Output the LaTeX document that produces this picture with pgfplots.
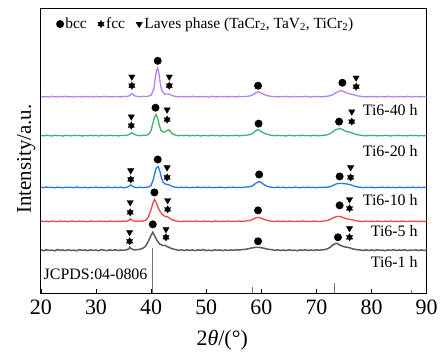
\documentclass[border=0pt]{standalone}
\usepackage{pgfplots}
\pgfplotsset{compat=1.18}
\usepackage{fontspec}
\setmainfont{Liberation Serif}
\definecolor{cpurple}{RGB}{183,132,230}
\definecolor{cgreen}{RGB}{62,178,112}
\definecolor{cblue}{RGB}{40,118,230}
\definecolor{cred}{RGB}{240,72,72}
\definecolor{cgray}{RGB}{92,92,92}
\pgfdeclareplotmark{hexstar}{%
  \pgfpathmoveto{\pgfqpointpolar{90}{\pgfplotmarksize}}%
  \pgfpathlineto{\pgfqpointpolar{210}{\pgfplotmarksize}}%
  \pgfpathlineto{\pgfqpointpolar{330}{\pgfplotmarksize}}%
  \pgfpathclose
  \pgfpathmoveto{\pgfqpointpolar{270}{\pgfplotmarksize}}%
  \pgfpathlineto{\pgfqpointpolar{30}{\pgfplotmarksize}}%
  \pgfpathlineto{\pgfqpointpolar{150}{\pgfplotmarksize}}%
  \pgfpathclose
  \pgfusepathqfillstroke}
\begin{document}
\begin{tikzpicture}
\begin{axis}[name=ax, scale only axis, width=387pt, height=286pt,
  xmin=20, xmax=90, ymin=0, ymax=286,
  xtick={20,30,...,90}, ytick=\empty, xtick pos=lower, tick align=inside,
  major tick length=4pt, axis line style={line width=0.8pt}, tick style={line width=0.7pt, black},
  /pgf/number format/assume math mode=true,
  ticklabel style={font=\fontsize{22}{24}\selectfont},
  xticklabel style={yshift=-3pt},
  xlabel={2\textit{θ}/(°)}, xlabel style={font=\fontsize{22}{24}\selectfont, at={(axis description cs:0.47,-0.165)}, anchor=center},
  ylabel={Intensity/a.u.}, ylabel style={font=\fontsize{21}{24}\selectfont, at={(axis description cs:-0.026,0.47)}, anchor=base},
  legend style={at={(axis description cs:0.033,0.98)}, anchor=north west, draw=none, fill=none,
    font=\fontsize{15.5}{17}\selectfont, legend columns=3,
    /tikz/every even column/.append style={column sep=9pt}},
  legend cell align=left,
  every axis plot/.append style={line width=1.3pt},
]
% reference pattern JCPDS:04-0806
\addplot[ycomb, line width=0.6pt, color=black!55, mark=none, forget plot] coordinates {(40.3,45) (58.3,6) (73.3,10) (87.2,3)};
% Ti6-1 h
\addplot[cgray, forget plot, line width=1.5pt] coordinates {
(20,43.4) (20.5,42.5) (21,43.6) (21.5,42.8) (22,43.2) (22.5,42.4) (23,43.7) (23.5,42.9) (24,43.3) (24.5,42.6) (25,43.5) (25.5,42.7) (26,43.1) (26.5,42.5) (27,43.6) (27.5,42.9) (28,43.3) (28.5,42.6) (29,43.4) (29.5,42.8) (30,43.2) (30.5,42.5) (31,43.7) (31.5,43.0) (32,42.6) (32.5,43.4) (33,42.8) (33.5,43.5) (34,42.7) (34.5,43.3) (35,42.9) (35.5,43.4) (36,44.5) (36.1,46.0) (36.5,44.2) (37,43.3) (37.5,43.6) (38,44.0) (38.5,45.0) (39,47.0) (39.5,52.0) (40.0,58.0) (40.3,61.0) (40.6,58.0) (41.0,53.5) (41.5,49.5) (42,48.0) (42.5,47.8) (43,46.5) (43.5,45.2) (44,44.2) (44.5,43.6) (45,43.0) (45.5,43.4) (46,42.7) (46.5,43.5) (47,42.8) (47.5,43.3) (48,42.6) (48.5,43.4) (49,42.9) (49.5,43.6) (50,42.7) (50.5,43.2) (51,42.5) (51.5,43.5) (52,42.9) (52.5,43.3) (53,42.6) (53.5,43.4) (54,42.8) (54.5,43.3) (55,43.0) (55.5,43.5) (56,43.2) (56.5,43.7) (57,43.8) (57.5,44.3) (58,45.0) (58.5,45.5) (59,46.0) (59.5,46.0) (60,45.5) (60.5,45.0) (61,44.2) (61.5,43.8) (62,43.5) (62.5,42.9) (63,43.4) (63.5,42.7) (64,43.3) (64.5,42.6) (65,43.5) (65.5,42.8) (66,43.2) (66.5,42.5) (67,43.4) (67.5,42.9) (68,43.6) (68.5,42.7) (69,43.3) (69.5,42.8) (70,43.5) (70.5,43.0) (71,43.4) (71.5,43.6) (72,44.5) (72.5,46.0) (73,48.5) (73.6,50.0) (74,49.0) (74.5,47.5) (75,46.5) (75.5,46.0) (76,45.5) (76.5,44.5) (77,43.9) (77.5,43.5) (78,43.2) (78.5,42.7) (79,43.4) (79.5,42.8) (80,43.3) (80.5,42.6) (81,43.5) (81.5,42.9) (82,43.2) (82.5,42.5) (83,43.4) (83.5,42.8) (84,43.6) (84.5,42.7) (85,43.3) (85.5,42.9) (86,43.5) (86.5,42.6) (87,43.2) (87.5,42.8) (88,43.4) (88.5,42.7) (89,43.3) (89.5,42.9) (90,43.1)};
% Ti6-5 h
\addplot[cred, forget plot] coordinates {
(20,72.3) (20.5,71.8) (21,72.2) (21.5,71.6) (22,72.4) (22.5,72.0) (23,71.7) (23.5,72.3) (24,71.9) (24.5,72.2) (25,71.7) (25.5,72.4) (26,72.0) (26.5,71.8) (27,72.3) (27.5,71.9) (28,72.1) (28.5,71.6) (29,72.3) (29.5,72.0) (30,71.8) (30.5,72.4) (31,71.9) (31.5,72.2) (32,71.7) (32.5,72.3) (33,72.0) (33.5,71.8) (34,72.2) (34.5,71.9) (35,72.3) (35.5,72.0) (36,73.0) (36.2,74.5) (36.6,73.0) (37,72.2) (37.5,71.9) (38,72.3) (38.5,72.2) (39,73.0) (39.5,76) (40.0,84) (40.3,90) (40.6,94) (41.0,90) (41.5,83) (42.0,79) (42.5,77) (43.0,76.5) (43.5,74.5) (44.0,73.2) (44.5,72.4) (45,72.0) (45.5,71.7) (46,72.3) (46.5,71.9) (47,72.2) (47.5,71.8) (48,72.4) (48.5,72.0) (49,71.7) (49.5,72.3) (50,71.9) (50.5,72.1) (51,71.6) (51.5,72.3) (52,72.0) (52.5,71.8) (53,72.2) (53.5,71.9) (54,72.4) (54.5,71.8) (55,72.1) (55.5,71.9) (56,72.3) (56.5,72.0) (57,72.2) (57.5,72.5) (58,73.0) (58.5,74.0) (59,75.5) (59.4,76.0) (60,75.0) (60.5,74.0) (61,73.0) (61.5,72.4) (62,72.1) (62.5,71.8) (63,72.3) (63.5,71.9) (64,72.2) (64.5,71.7) (65,72.3) (65.5,72.0) (66,71.8) (66.5,72.2) (67,71.9) (67.5,72.4) (68,71.8) (68.5,72.1) (69,71.7) (69.5,72.3) (70,72.0) (70.5,71.8) (71,72.2) (71.5,72.4) (72,72.8) (72.5,74.0) (73,75.5) (73.5,76.5) (74.1,77.0) (74.5,76.5) (75,75.5) (75.5,74.5) (76,74.0) (76.5,73.5) (77,72.8) (77.5,72.3) (78,72.0) (78.5,71.8) (79,72.3) (79.5,71.9) (80,72.2) (80.5,71.7) (81,72.3) (81.5,72.0) (82,71.8) (82.5,72.2) (83,71.9) (83.5,72.4) (84,71.8) (84.5,72.1) (85,71.7) (85.5,72.3) (86,72.0) (86.5,71.8) (87,72.2) (87.5,71.9) (88,72.3) (88.5,71.8) (89,72.1) (89.5,71.9) (90,72.2)};
% Ti6-10 h
\addplot[cblue, forget plot] coordinates {
(20,106.2) (20.5,105.8) (21,106.4) (21.5,105.9) (22,106.1) (22.5,105.6) (23,106.3) (23.5,106.0) (24,105.7) (24.5,106.3) (25,105.9) (25.5,106.2) (26,105.7) (26.5,106.4) (27,106.0) (27.5,105.8) (28,106.2) (28.5,105.6) (29,106.1) (29.5,105.9) (30,106.3) (30.5,105.8) (31,106.1) (31.5,105.7) (32,106.3) (32.5,106.0) (33,105.8) (33.5,106.2) (34,105.9) (34.5,106.3) (35,105.7) (35.5,106.1) (36,107.0) (36.3,108.5) (36.7,106.8) (37,106.2) (37.5,105.9) (38,106.2) (38.5,105.8) (39,106.1) (39.5,106.5) (40,108) (40.4,114) (40.7,121) (41.0,126) (41.3,127) (41.6,122) (41.9,115) (42.2,111) (42.6,109.3) (43.0,109.0) (43.4,108.2) (43.8,107.0) (44.2,106.4) (44.6,106.1) (45,105.8) (45.5,106.2) (46,105.9) (46.5,106.3) (47,105.7) (47.5,106.1) (48,105.9) (48.5,106.4) (49,105.8) (49.5,106.2) (50,105.9) (50.5,106.3) (51,105.7) (51.5,106.1) (52,105.8) (52.5,106.3) (53,106.0) (53.5,105.7) (54,106.2) (54.5,105.9) (55,106.3) (55.5,105.8) (56,106.1) (56.5,105.9) (57,106.3) (57.5,106.4) (58,106.9) (58.5,108.0) (59,110.2) (59.6,112.0) (60,110.8) (60.5,108.8) (61,107.3) (61.5,106.5) (62,106.1) (62.5,105.8) (63,106.3) (63.5,105.9) (64,106.2) (64.5,105.7) (65,106.1) (65.5,105.8) (66,106.3) (66.5,106.0) (67,105.7) (67.5,106.2) (68,105.9) (68.5,106.3) (69,105.8) (69.5,106.1) (70,105.7) (70.5,106.2) (71,106.0) (71.5,106.1) (72,106.3) (72.5,106.8) (73,108.0) (73.5,109.3) (74,110.0) (74.5,110.0) (75,109.8) (75.5,109.5) (76,109.0) (76.5,108.0) (77,107.0) (77.5,106.4) (78,106.1) (78.5,105.8) (79,106.2) (79.5,105.9) (80,106.3) (80.5,105.7) (81,106.1) (81.5,105.9) (82,106.3) (82.5,105.8) (83,106.2) (83.5,105.9) (84,106.1) (84.5,105.7) (85,106.3) (85.5,106.0) (86,105.8) (86.5,106.2) (87,105.9) (87.5,106.3) (88,105.8) (88.5,106.1) (89,105.9) (89.5,106.2) (90,105.9)};
% Ti6-20 h
\addplot[cgreen, forget plot] coordinates {
(20,158.2) (20.5,157.7) (21,158.4) (21.5,158.0) (22,157.6) (22.5,158.3) (23,157.9) (23.5,158.1) (24,157.5) (24.5,158.3) (25,158.0) (25.5,157.7) (26,158.4) (26.5,157.9) (27,158.2) (27.5,157.6) (28,158.1) (28.5,157.8) (29,158.3) (29.5,157.9) (30,158.1) (30.5,157.6) (31,158.3) (31.5,158.0) (32,157.8) (32.5,158.4) (33,157.9) (33.5,158.2) (34,157.7) (34.5,158.1) (35,158.0) (35.5,158.3) (36,159.0) (36.5,161.0) (37,159.0) (37.5,158.3) (38,157.9) (38.5,158.2) (39,158.3) (39.5,159.0) (40,163) (40.3,170) (40.6,176) (40.9,179) (41.2,175) (41.5,168) (41.8,163) (42.1,161.5) (42.5,161.5) (42.9,163.0) (43.2,164.0) (43.5,162.0) (43.8,160.0) (44.2,158.8) (44.6,158.3) (45,157.8) (45.5,158.2) (46,157.9) (46.5,158.4) (47,157.7) (47.5,158.1) (48,157.9) (48.5,158.3) (49,157.6) (49.5,158.2) (50,158.0) (50.5,157.7) (51,158.3) (51.5,157.9) (52,158.1) (52.5,157.6) (53,158.3) (53.5,158.0) (54,157.8) (54.5,158.2) (55,157.9) (55.5,158.3) (56,157.7) (56.5,158.1) (57,158.2) (57.5,158.6) (58,159.1) (58.5,160.5) (59,162.8) (59.4,164.0) (60,162.0) (60.5,160.5) (61,159.3) (61.5,158.6) (62,158.2) (62.5,157.8) (63,158.3) (63.5,157.9) (64,158.1) (64.5,157.6) (65,158.3) (65.5,158.0) (66,157.7) (66.5,158.2) (67,157.9) (67.5,158.4) (68,157.8) (68.5,158.1) (69,157.7) (69.5,158.3) (70,158.0) (70.5,157.8) (71,158.2) (71.5,158.4) (72,158.9) (72.5,160.0) (73,162.0) (73.5,164.0) (74.2,165.0) (74.6,164.5) (75,163.0) (75.5,162.0) (76,161.5) (76.5,160.5) (77,159.5) (77.5,158.8) (78,158.4) (78.5,158.0) (79,157.7) (79.5,158.2) (80,157.9) (80.5,158.3) (81,157.7) (81.5,158.1) (82,157.8) (82.5,158.3) (83,158.0) (83.5,157.6) (84,158.2) (84.5,157.9) (85,158.3) (85.5,157.8) (86,158.1) (86.5,157.7) (87,158.2) (87.5,157.9) (88,158.3) (88.5,157.7) (89,158.1) (89.5,157.8) (90,158.0)};
% Ti6-40 h
\addplot[cpurple, forget plot] coordinates {
(20,197.3) (20.5,196.8) (21,197.2) (21.5,196.6) (22,197.4) (22.5,197.0) (23,196.7) (23.5,197.3) (24,196.9) (24.5,197.5) (25,196.8) (25.5,197.1) (26,196.6) (26.5,197.3) (27,197.0) (27.5,196.7) (28,197.4) (28.5,196.9) (29,197.2) (29.5,196.6) (30,197.3) (30.5,197.0) (31,196.8) (31.5,197.5) (32,196.9) (32.5,197.2) (33,196.7) (33.5,197.3) (34,197.0) (34.5,196.8) (35,197.4) (35.5,197.1) (36,197.8) (36.5,200.0) (37,197.9) (37.5,197.2) (38,196.9) (38.5,197.4) (39,197.2) (39.5,197.6) (40,198.5) (40.5,205) (40.75,215) (41,224) (41.2,226) (41.4,221) (41.6,213) (41.8,206) (42,202.5) (42.5,199.5) (43,199.8) (43.4,199.3) (43.8,198.2) (44.2,197.5) (44.5,197.2) (45,196.8) (45.5,197.3) (46,196.9) (46.5,197.2) (47,196.7) (47.5,197.4) (48,197.0) (48.5,196.8) (49,197.3) (49.5,196.9) (50,197.2) (50.5,196.6) (51,197.4) (51.5,197.0) (52,196.8) (52.5,197.3) (53,196.9) (53.5,197.2) (54,196.7) (54.5,197.3) (55,197.0) (55.5,196.8) (56,197.4) (56.5,197.0) (57,197.2) (57.5,197.4) (58,197.9) (58.5,199) (59,201) (59.4,202) (60,200.6) (60.5,199.2) (61,198.1) (61.5,197.6) (62,197.1) (62.5,197.3) (63,196.8) (63.5,197.2) (64,196.9) (64.5,197.4) (65,197.0) (65.5,196.7) (66,197.3) (66.5,196.9) (67,197.2) (67.5,196.8) (68,197.4) (68.5,197.0) (69,196.7) (69.5,197.3) (70,197.0) (70.5,197.2) (71,196.8) (71.5,197.3) (72,197.5) (72.5,198.1) (73,199.0) (73.5,200.8) (74,202.3) (74.6,203.0) (75,202.0) (75.5,200.6) (76,200.0) (76.5,199.4) (77,198.5) (77.5,197.8) (78,197.4) (78.5,197.0) (79,196.8) (79.5,197.3) (80,196.9) (80.5,197.2) (81,196.7) (81.5,197.3) (82,197.0) (82.5,196.8) (83,197.4) (83.5,197.0) (84,196.7) (84.5,197.3) (85,196.9) (85.5,197.2) (86,196.8) (86.5,197.4) (87,197.0) (87.5,196.7) (88,197.3) (88.5,197.0) (89,196.8) (89.5,197.3) (90,197.0)};
% phase markers
\addplot[only marks, mark=*, mark size=3.3pt, black] coordinates {
(41.2,233) (59.4,208) (74.7,211)
(40.8,186) (59.5,170) (74.1,172)
(41.2,134) (59.6,119) (74.2,117)
(40.6,101) (59.4,83) (74.2,88)
(40.3,69) (59.4,52) (73.9,56)};
\addlegendentry{bcc}
\addplot[only marks, mark=hexstar, mark size=3.7pt, black, mark options={line width=0.3pt}] coordinates {
(36.5,208) (43.3,208) (77.2,207)
(36.4,168) (42.9,174) (76.4,172)
(36.3,114) (42.9,116) (76.2,116)
(36.2,81) (43.0,84) (76.0,85)
(36.1,52) (42.7,56) (76.0,56)};
\addlegendentry{fcc}
\addplot[only marks, mark=triangle*, mark size=3.7pt, black, mark options={rotate=180, line width=0.3pt}] coordinates {
(36.5,217) (43.3,217) (77.2,216)
(36.4,177) (42.9,184) (76.4,182)
(36.3,123) (42.9,126) (76.2,126)
(36.2,91) (43.0,93) (76.0,94)
(36.1,61) (42.7,64) (76.0,65)};
\addlegendentry{Laves phase (TaCr\textsubscript{2}, TaV\textsubscript{2}, TiCr\textsubscript{2})}
\node[anchor=east, font=\fontsize{16}{18}\selectfont] at (axis cs:89.0,184) {Ti6-40 h};
\node[anchor=east, font=\fontsize{16}{18}\selectfont] at (axis cs:89.0,142) {Ti6-20 h};
\node[anchor=east, font=\fontsize{16}{18}\selectfont] at (axis cs:89.0,93) {Ti6-10 h};
\node[anchor=east, font=\fontsize{16}{18}\selectfont] at (axis cs:89.0,62) {Ti6-5 h};
\node[anchor=east, font=\fontsize{16}{18}\selectfont] at (axis cs:89.0,31) {Ti6-1 h};
\node[anchor=west, font=\fontsize{16}{18}\selectfont, inner sep=1pt] at (axis cs:20.3,19) {JCPDS:04-0806};
\end{axis}
\path ([shift={(-41pt,-64pt)}]ax.south west) rectangle ([shift={(13pt,8pt)}]ax.north east);
\end{tikzpicture}
\end{document}
